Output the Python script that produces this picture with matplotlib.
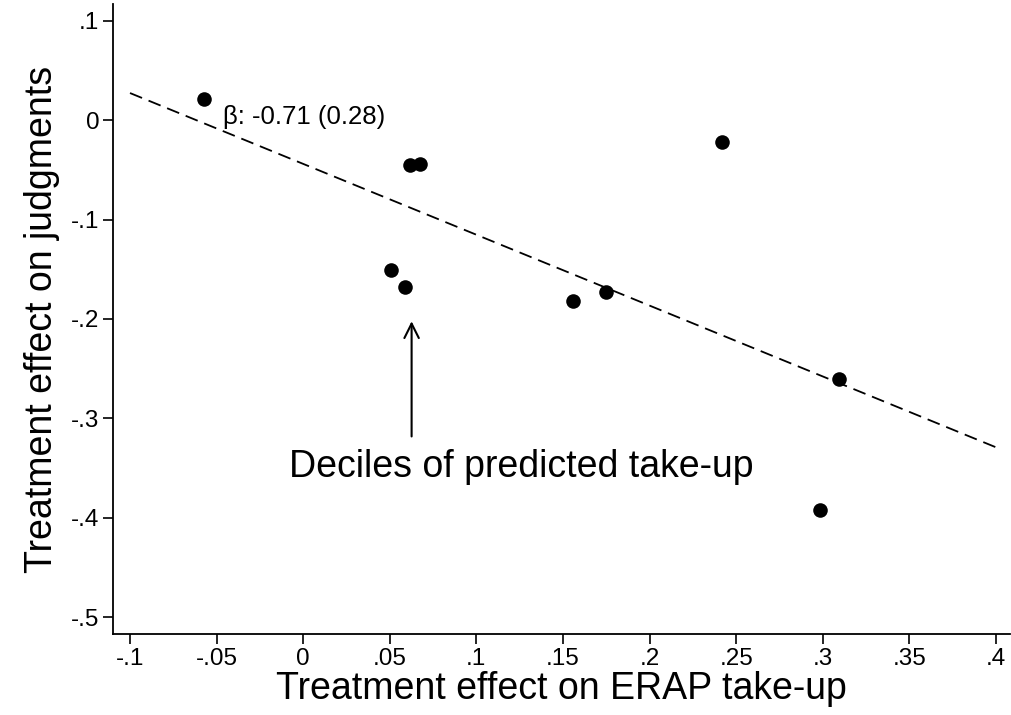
import numpy as np
import matplotlib
matplotlib.use("Agg")
import matplotlib.pyplot as plt

plt.rcParams['font.family'] = ['Liberation Sans', 'DejaVu Sans']

# decile estimates: effect on ERAP take-up (x) vs effect on judgments (y)
takeup = [-0.057, 0.0615, 0.0672, 0.0509, 0.059, 0.156, 0.175, 0.242, 0.3095, 0.2985]
judgments = [0.0213, -0.0446, -0.0436, -0.151, -0.1675, -0.182, -0.1726, -0.0223, -0.260, -0.392]

# fitted line
slope = -0.713
intercept = -0.0439
fit_range = [-0.1, 0.4]

xticks = [-0.1, -0.05, 0, 0.05, 0.1, 0.15, 0.2, 0.25, 0.3, 0.35, 0.4]
xticklabels = ['-.1', '-.05', '0', '.05', '.1', '.15', '.2', '.25', '.3', '.35', '.4']
yticks = [0.1, 0, -0.1, -0.2, -0.3, -0.4, -0.5]
yticklabels = ['.1', '0', '-.1', '-.2', '-.3', '-.4', '-.5']

fig = plt.figure(figsize=(10.11, 7.15), dpi=100)
ax = fig.add_axes([0.1118, 0.1133, 0.887, 0.8811])

ax.scatter(takeup, judgments, s=110, color='black', zorder=3, linewidths=0)
fx = np.array(fit_range)
ax.plot(fx, intercept + slope * fx, color='black', linestyle=(0, (7.2, 3.9)), linewidth=1.3)

ax.text(-0.0464, 0.003, 'β: -0.71 (0.28)', fontsize=18.5, ha='left', va='center')
ax.annotate('', xy=(0.0626, -0.1995), xytext=(0.0626, -0.321),
            arrowprops=dict(arrowstyle='->', color='black', lw=1.5, mutation_scale=26))
ax.text(0.126, -0.349, 'Deciles of predicted take-up', fontsize=27, ha='center', va='center')

ax.set_xlim(-0.1098, 0.408)
ax.set_ylim(-0.517, 0.117)
ax.set_xticks(xticks)
ax.set_xticklabels(xticklabels)
ax.set_yticks(yticks)
ax.set_yticklabels(yticklabels)
ax.tick_params(labelsize=17.5, length=7, width=1.2, color='black', pad=3)

for side in ['top', 'right']:
    ax.spines[side].set_visible(False)
for side in ['left', 'bottom']:
    ax.spines[side].set_linewidth(1.3)

ax.set_xlabel('Treatment effect on ERAP take-up', fontsize=27, labelpad=1)
ax.set_ylabel('Treatment effect on judgments', fontsize=27, labelpad=8)

fig.savefig('out.png', dpi=100)
